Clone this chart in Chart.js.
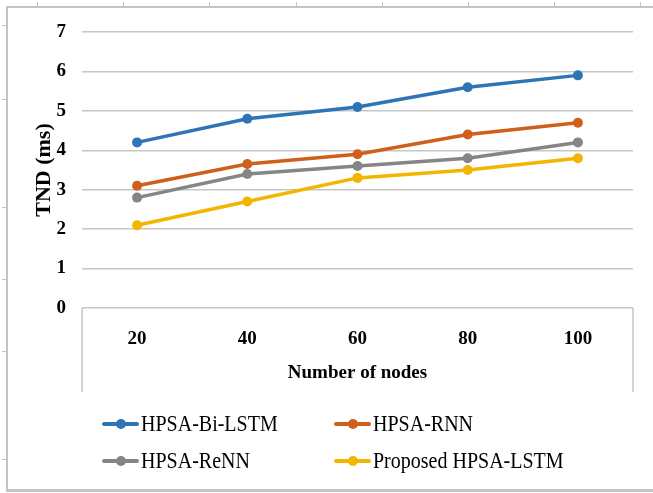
<!DOCTYPE html>
<html>
<head>
<meta charset="utf-8">
<script src="https://cdn.jsdelivr.net/npm/chart.js@4/dist/chart.umd.min.js"></script>
<style>
  html, body { margin:0; padding:0; background:#fff; }
  #wrap { position:relative; width:653px; height:493px; overflow:hidden; }
  #c { position:absolute; left:0; top:0; }
  .rule { position:absolute; background:#c4c4c4; }
  .lg { position:absolute; font:20px "Liberation Serif", "Times New Roman", serif; color:#000; white-space:nowrap;
        line-height:20px; transform:scaleY(1.12); transform-origin:left center; }
  .sym { position:absolute; height:4px; border-radius:2px; }
  .dot { position:absolute; width:10px; height:10px; border-radius:50%; top:-3px; }
</style>
</head>
<body>
<div id="wrap">
  <canvas id="c" width="653" height="493"></canvas>
</div>
<script>
'use strict';
const NODES   = ['20', '40', '60', '80', '100'];
const SERIES  = ['HPSA-Bi-LSTM', 'HPSA-RNN', 'HPSA-ReNN', 'Proposed HPSA-LSTM'];
const BILSTM  = [4.2, 4.8, 5.1, 5.6, 5.9];
const RNN     = [3.1, 3.65, 3.9, 4.4, 4.7];
const RENN    = [2.8, 3.4, 3.6, 3.8, 4.2];
const PROPOSED = [2.1, 2.7, 3.3, 3.5, 3.8];
const COLORS  = ['#2e75b6', '#cf601b', '#858585', '#f2b600'];
const Y_TICKS = [0, 1, 2, 3, 4, 5, 6, 7];

const $ = id => document.getElementById(id);
const SERIF = '"Liberation Serif", "Times New Roman", serif';

// ── page frame (ruler-ish lines round the picture) ────────
function rule(l, t, w, h) {
  const d = document.createElement('div');
  d.className = 'rule';
  Object.assign(d.style, { left:l+'px', top:t+'px', width:w+'px', height:h+'px' });
  $('wrap').appendChild(d);
}
rule(7, 6, 646, 1.5);
rule(6, 6, 1.5, 485);
rule(6, 489, 647, 2.5);
[37, 123, 209, 296, 382, 468, 554, 640].forEach(x => rule(x, 2, 1, 5));
[25, 99, 207, 279, 351, 459].forEach(y => rule(2, y, 5, 1));

// ── legend, two columns ──────────────────────────────────
const LEG_POS = [[102, 424], [334, 424], [102, 461], [334, 461]];
SERIES.forEach((name, i) => {
  const [x, y] = LEG_POS[i];
  const s = document.createElement('div');
  s.className = 'sym';
  Object.assign(s.style, { left:x+'px', top:(y-2)+'px', width:'37px', background:COLORS[i] });
  const d = document.createElement('div');
  d.className = 'dot';
  Object.assign(d.style, { left:'14px', background:COLORS[i] });
  s.appendChild(d);
  const t = document.createElement('div');
  t.className = 'lg';
  t.textContent = name;
  Object.assign(t.style, { left:(x+39)+'px', top:(y-11)+'px' });
  $('wrap').appendChild(s);
  $('wrap').appendChild(t);
});

// ── box under the plot, round the category labels ─────────
const axisBox = {
  id: 'axisBox',
  afterDraw(chart) {
    const { ctx, chartArea: a, scales: { x } } = chart;
    ctx.save();
    ctx.strokeStyle = '#c6c6c6';
    ctx.lineWidth = 1.5;
    ctx.beginPath();
    ctx.moveTo(a.left, a.bottom); ctx.lineTo(a.left, x.bottom);
    ctx.moveTo(a.right, a.bottom); ctx.lineTo(a.right, x.bottom);
    ctx.stroke();
    ctx.restore();
  }
};

const data = [BILSTM, RNN, RENN, PROPOSED];

new Chart($('c').getContext('2d'), {
  type: 'line',
  data: {
    labels: NODES,
    datasets: SERIES.map((name, i) => ({
      label: name, data: data[i],
      borderColor: COLORS[i], backgroundColor: COLORS[i],
      borderWidth: 3.5, tension: 0,
      pointRadius: 5, pointBorderWidth: 0, pointBackgroundColor: COLORS[i],
    })),
  },
  options: {
    responsive: false, animation: false,
    layout: { padding: { left: 0, top: 32, right: 20, bottom: 101 } },
    plugins: { legend: { display: false }, tooltip: { enabled: false } },
    scales: {
      x: {
        offset: true,
        grid: { display: false },
        border: { display: false },
        ticks: { color: '#000', padding: 12, font: { family: SERIF, size: 19, weight: 'bold' } },
        title: { display: true, text: 'Number of nodes', color: '#000', padding: { top: 0, bottom: 8 },
                 font: { family: SERIF, size: 19, weight: 'bold' } },
        afterFit: s => { s.height = 84; },
      },
      y: {
        min: 0, max: 7,
        afterBuildTicks: s => { s.ticks = Y_TICKS.map(v => ({ value: v })); },
        grid: { color: '#c6c6c6', lineWidth: 1.5, drawTicks: false },
        border: { display: false },
        ticks: { color: '#000', padding: 16, font: { family: SERIF, size: 19, weight: 'bold' } },
        title: { display: true, text: 'TND (ms)', color: '#000', padding: { top: 31, bottom: 0 },
                 font: { family: SERIF, size: 22, weight: 'bold' } },
        afterFit: s => { s.width = 82; },
      },
    },
  },
  plugins: [axisBox],
});
</script>
</body>
</html>
